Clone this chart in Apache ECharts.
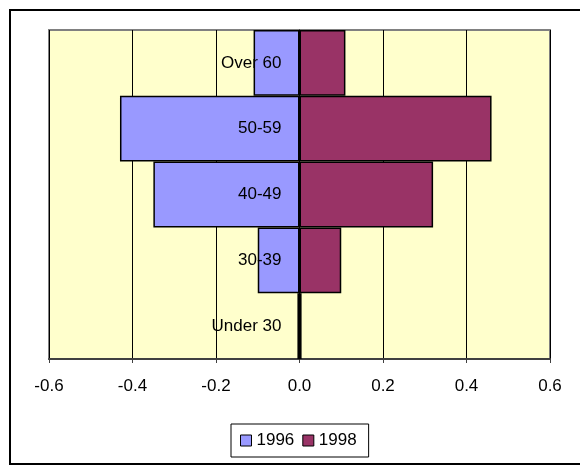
<!DOCTYPE html>
<html>
<head>
<meta charset="utf-8">
<script src="https://cdn.jsdelivr.net/npm/echarts@6/dist/echarts.min.js"></script>
<style>
  html, body { margin: 0; padding: 0; background: #ffffff; }
  #chart { width: 580px; height: 467px; }
</style>
</head>
<body>
<div id="chart"></div>
<script>
// Age groups, bottom to top
const categories = ['Under 30', '30-39', '40-49', '50-59', 'Over 60'];
// Change by age group for each year (1996 plotted to the left, 1998 to the right)
const values1996 = [-0.005, -0.10, -0.35, -0.43, -0.11];
const values1998 = [0.005, 0.10, 0.32, 0.46, 0.11];
const seriesNames = ['1996', '1998'];

const FONT = 'Liberation Sans, Arial, sans-serif';

const chart = echarts.init(document.getElementById('chart'), null, { renderer: 'canvas' });

chart.setOption({
  animation: false,
  backgroundColor: '#ffffff',
  textStyle: { fontFamily: FONT },
  graphic: [{
    type: 'rect',
    z: -10,
    shape: { x: 10, y: 10, width: 572, height: 454 },
    style: { fill: 'none', stroke: '#000000', lineWidth: 2 }
  }],
  grid: {
    left: 49, right: 30, top: 30, bottom: 108,
    containLabel: false,
    outerBoundsMode: 'none',
    show: true,
    backgroundColor: '#FFFFCC',
    borderColor: '#808080',
    borderWidth: 2
  },
  legend: {
    left: 231, top: 424,
    orient: 'horizontal',
    padding: [8, 12, 8, 9],
    itemGap: 8,
    itemWidth: 11, itemHeight: 11,
    borderColor: '#000000', borderWidth: 1,
    backgroundColor: '#ffffff',
    textStyle: { fontFamily: FONT, fontSize: 17, color: '#000000' },
    data: seriesNames.map(n => ({ name: n, icon: 'rect', itemStyle: { borderColor: '#000', borderWidth: 1 } }))
  },
  xAxis: {
    type: 'value',
    min: -0.6, max: 0.6, interval: 0.2,
    axisLine: { show: true, onZero: false, lineStyle: { color: '#404040', width: 2 } },
    axisTick: { show: true, length: 4, lineStyle: { color: '#404040', width: 1 } },
    splitLine: { show: true, lineStyle: { color: '#000000', width: 1 } },
    axisLabel: {
      margin: 19, fontSize: 17, color: '#000000', fontFamily: FONT,
      formatter: v => (Math.round(v * 10) / 10).toFixed(1)
    }
  },
  yAxis: {
    type: 'category',
    data: categories,
    z: 10,
    axisLine: { show: true, onZero: true, lineStyle: { color: '#000000', width: 1 } },
    axisTick: { show: false },
    axisLabel: { show: false }
  },
  series: [
    {
      name: seriesNames[0], type: 'bar', data: values1996,
      barGap: '-100%', barCategoryGap: 0,
      itemStyle: { color: '#9999FF', borderColor: '#000000', borderWidth: 1.5 }
    },
    {
      name: seriesNames[1], type: 'bar', data: values1998,
      barGap: '-100%', barCategoryGap: 0,
      z: 3,
      itemStyle: { color: '#993366', borderColor: '#000000', borderWidth: 1.5 },
      // category names sit just left of the zero line
      label: {
        show: true,
        position: 'left',
        distance: 18,
        formatter: '{b}',
        fontFamily: FONT,
        fontSize: 17,
        color: '#000000'
      }
    }
  ]
});
</script>
</body>
</html>
